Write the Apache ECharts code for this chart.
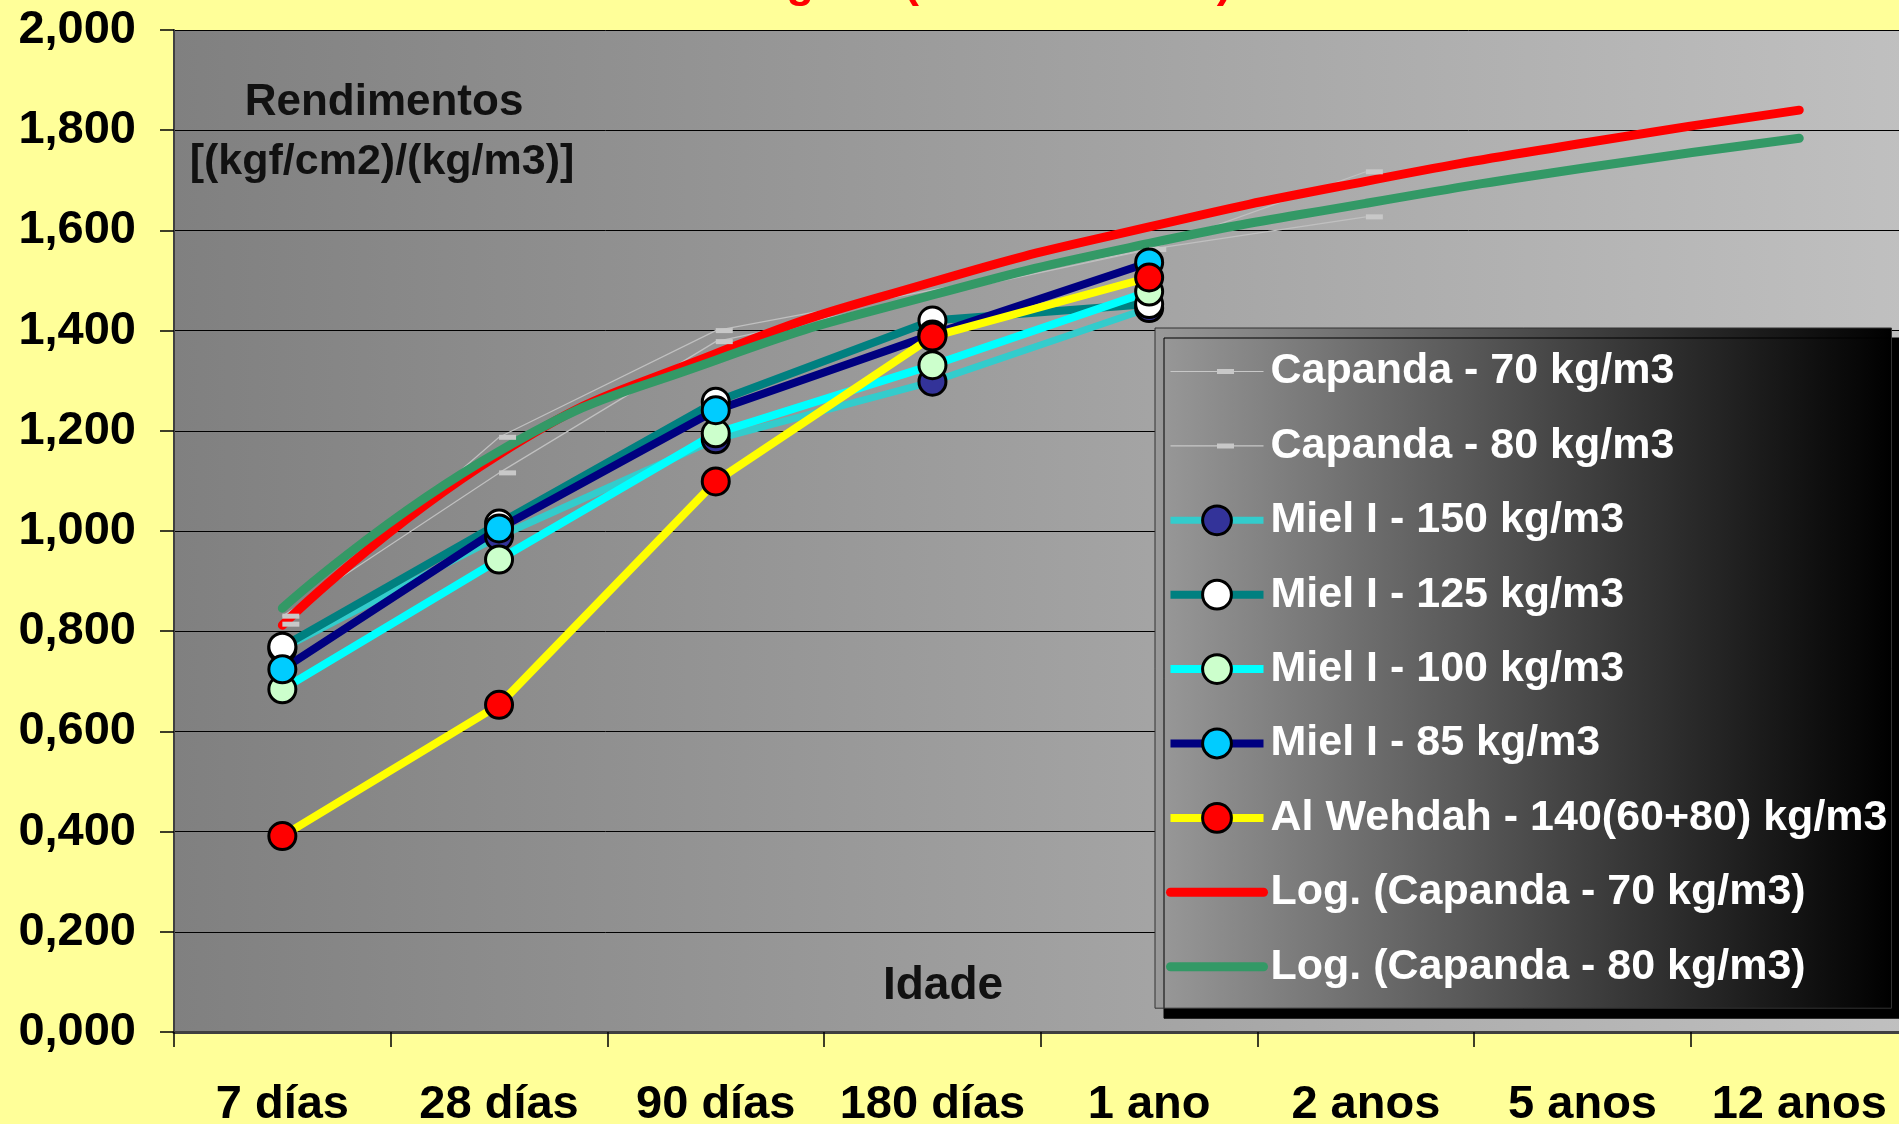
<!DOCTYPE html>
<html>
<head>
<meta charset="utf-8">
<script src="https://cdn.jsdelivr.net/npm/echarts@6/dist/echarts.min.js"></script>
<style>
  html, body { margin: 0; padding: 0; background: #ffff99; }
  #chart { width: 1899px; height: 1124px; }
</style>
</head>
<body>
<div id="chart"></div>
<script>
// Ages (categories on the x axis)
const categories = ['7 días', '28 días', '90 días', '180 días', '1 ano', '2 anos', '5 anos', '12 anos'];

// Rendimentos [(kgf/cm2)/(kg/m3)] per mix
const capanda70 = [0.814, 1.187, 1.400, null, 1.562, 1.717];
const capanda80 = [0.830, 1.116, 1.378, null, 1.562, 1.627];
const miel150   = [0.765, 0.989, 1.183, 1.298, 1.445];
const miel125   = [0.769, 1.015, 1.258, 1.420, 1.453];
const miel100   = [0.684, 0.943, 1.195, 1.331, 1.478];
const miel85    = [0.724, 1.005, 1.241, 1.392, 1.536];
const alWehdah  = [0.391, 0.653, 1.099, 1.388, 1.506];

// Logarithmic trend curves of the Capanda mixes, read at each age
const logCapanda70 = [0.812, 1.153, 1.354, 1.497, 1.607, 1.698, 1.774, 1.840];
const logCapanda80 = [0.846, 1.159, 1.341, 1.471, 1.574, 1.654, 1.724, 1.784];

// Y axis tick labels (decimal comma)
const yLabels = ['0,000', '0,200', '0,400', '0,600', '0,800', '1,000', '1,200', '1,400', '1,600', '1,800', '2,000'];

const FONT = '"Liberation Sans", Arial, sans-serif';

const chart = echarts.init(document.getElementById('chart'), null, { renderer: 'canvas' });

function mielSeries(name, data, lineColor, fill, width) {
  return {
    name, type: 'line', data,
    symbol: 'circle', symbolSize: 27,
    lineStyle: { color: lineColor, width: width },
    itemStyle: { color: fill, borderColor: '#000', borderWidth: 3 },
    emphasis: { disabled: true }
  };
}

function capandaSeries(name, data) {
  return {
    name, type: 'line', data, connectNulls: true,
    symbol: 'rect', symbolSize: [17, 5], symbolOffset: [8.5, 0],
    lineStyle: { color: '#c0c0c0', width: 1.2 },
    itemStyle: { color: '#c8c8c8', borderWidth: 0 },
    emphasis: { disabled: true }
  };
}

function trendSeries(name, data, color) {
  return {
    name, type: 'line', data, smooth: true,
    symbol: 'none',
    lineStyle: { color: color, width: 9, cap: 'round' },
    itemStyle: { color: 'rgba(0,0,0,0)', borderWidth: 0 },
    emphasis: { disabled: true }
  };
}

// Legend icon for the Capanda rows: thin line with a small dash marker
const capIcon = 'path://M0,0L0.01,0L0,0.01Z M0,17.4L93,17.4L93,18.6L0,18.6Z M46.5,15.5L63.5,15.5L63.5,20.5L46.5,20.5Z M93,36L92.99,36L93,35.99Z';

const option = {
  animation: false,
  backgroundColor: '#ffff99',
  textStyle: { fontFamily: FONT },
  grid: {
    left: 174, right: -8.6, top: 30, bottom: 92,
    show: true, borderWidth: 0,
    backgroundColor: new echarts.graphic.LinearGradient(0, 0, 1, 0, [
      { offset: 0, color: '#808080' },
      { offset: 1, color: '#c0c0c0' }
    ]),
    containLabel: false,
    outerBoundsMode: 'none'
  },
  xAxis: {
    type: 'category', data: categories, boundaryGap: true,
    axisLine: { show: true, lineStyle: { color: '#404040', width: 3 } },
    axisTick: { show: true, interval: 0, length: 15, lineStyle: { color: '#000', width: 1.5 } },
    axisLabel: { interval: 0, margin: 50, fontSize: 47, fontWeight: 'bold', color: '#000', fontFamily: FONT },
    splitLine: { show: false }
  },
  yAxis: {
    type: 'value', min: 0, max: 2, interval: 0.2,
    axisLine: { show: true, lineStyle: { color: '#404040', width: 2 } },
    axisTick: { show: true, length: 14, lineStyle: { color: '#000', width: 1.5 } },
    axisLabel: {
      margin: 38, fontSize: 47, fontWeight: 'bold', color: '#000', fontFamily: FONT,
      formatter: (v) => yLabels[Math.round(v / 0.2)]
    },
    splitLine: { show: true, lineStyle: { color: '#000', width: 1 } }
  },
  legend: {
    orient: 'vertical',
    left: 1155, top: 328,
    padding: [22, 4, 20, 11],
    itemWidth: 93, itemHeight: 36, itemGap: 31.4,
    selectedMode: false,
    backgroundColor: new echarts.graphic.LinearGradient(0, 0, 1, 0, [
      { offset: 0, color: '#999999' },
      { offset: 1, color: '#000000' }
    ]),
    borderColor: '#333', borderWidth: 1,
    shadowColor: '#000', shadowBlur: 0.1, shadowOffsetX: 9, shadowOffsetY: 10,
    textStyle: { color: '#fff', fontSize: 43, fontWeight: 'bold', fontFamily: FONT, padding: [0, 0, 0, 2] },
    lineStyle: { width: 'inherit' },
    itemStyle: { borderWidth: 'inherit' },
    data: [
      { name: 'Capanda - 70 kg/m3', icon: capIcon, itemStyle: { color: '#c8c8c8', borderWidth: 0 } },
      { name: 'Capanda - 80 kg/m3', icon: capIcon, itemStyle: { color: '#c8c8c8', borderWidth: 0 } },
      'Miel I - 150 kg/m3',
      'Miel I - 125 kg/m3',
      'Miel I - 100 kg/m3',
      'Miel I - 85 kg/m3',
      'Al Wehdah - 140(60+80) kg/m3',
      'Log. (Capanda - 70 kg/m3)',
      'Log. (Capanda - 80 kg/m3)'
    ]
  },
  graphic: [
    {
      type: 'text', x: 314, y: -15, silent: true,
      style: { text: 'Rendimento das Dosagens (Idade de Cura)', font: 'bold 45px ' + FONT, fill: '#ff0000', align: 'left', verticalAlign: 'middle' }
    },
    {
      type: 'text', x: 384, y: 103, silent: true, z: 10,
      style: { text: 'Rendimentos', font: 'bold 44px ' + FONT, fill: '#111', align: 'center', verticalAlign: 'middle' }
    },
    {
      type: 'text', x: 382, y: 162, silent: true, z: 10,
      style: { text: '[(kgf/cm2)/(kg/m3)]', font: 'bold 43px ' + FONT, fill: '#111', align: 'center', verticalAlign: 'middle' }
    },
    {
      type: 'text', x: 943, y: 986, silent: true, z: 10,
      style: { text: 'Idade', font: 'bold 46px ' + FONT, fill: '#111', align: 'center', verticalAlign: 'middle' }
    }
  ],
  series: [
    capandaSeries('Capanda - 70 kg/m3', capanda70),
    capandaSeries('Capanda - 80 kg/m3', capanda80),
    mielSeries('Miel I - 150 kg/m3', miel150, '#33cccc', '#333399', 7),
    mielSeries('Miel I - 125 kg/m3', miel125, '#008080', '#ffffff', 8),
    mielSeries('Miel I - 100 kg/m3', miel100, '#00ffff', '#ccffcc', 8),
    mielSeries('Miel I - 85 kg/m3', miel85, '#000080', '#00ccff', 8),
    mielSeries('Al Wehdah - 140(60+80) kg/m3', alWehdah, '#ffff00', '#ff0000', 8),
    trendSeries('Log. (Capanda - 70 kg/m3)', logCapanda70, '#ff0000'),
    trendSeries('Log. (Capanda - 80 kg/m3)', logCapanda80, '#339966')
  ]
};

chart.setOption(option);
</script>
</body>
</html>
